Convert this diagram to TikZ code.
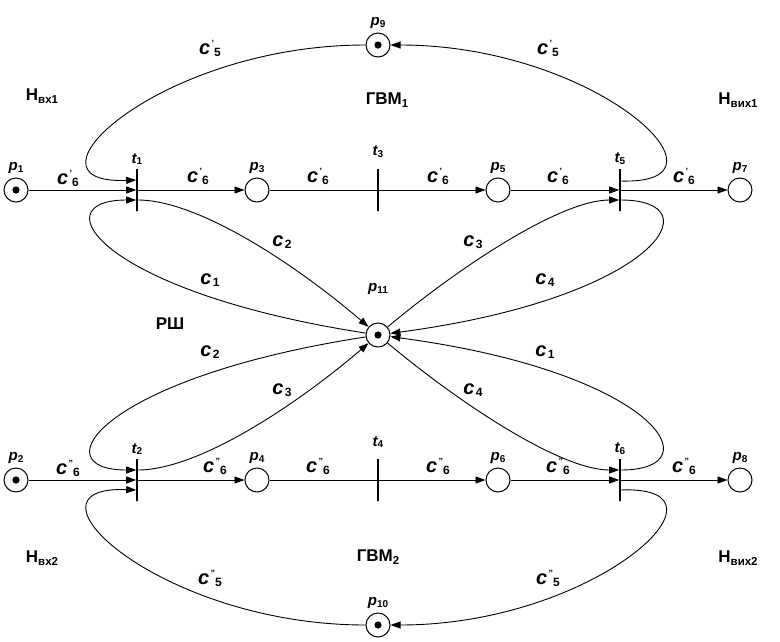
\documentclass[tikz,border=0pt]{standalone}
\usepackage{fontspec}
\setmainfont{Liberation Sans}
\usetikzlibrary{arrows.meta}

% name with subscript: p_1, t_1
\newcommand\pn[2]{{\fontsize{15}{15}\selectfont\bfseries\itshape #1}\raisebox{-0.3ex}{\fontsize{10}{10}\selectfont\bfseries #2}}
% arc weight: c with prime(s) and index
\newcommand\cw[2]{{\fontsize{20}{20}\selectfont\bfseries\itshape c}\hspace{1.5pt}\raisebox{8pt}{\fontsize{9}{9}\selectfont\bfseries #1}\raisebox{-2pt}{\fontsize{12}{12}\selectfont\bfseries #2}}
% block names
\newcommand\bn[2]{{\fontsize{17}{17}\selectfont\bfseries #1}\raisebox{-0.45ex}{\fontsize{11.5}{11.5}\selectfont\bfseries #2}}

\tikzset{
  place/.style  = {circle, draw, line width=1pt, minimum size=24pt, inner sep=0pt,
                   label distance=4pt},
  marked/.style = {place, path picture={\fill (path picture bounding box.center) circle (3.6pt);}},
  trans/.style  = {rectangle, draw, line width=1.6pt, minimum height=42pt,
                   minimum width=0pt, inner sep=0pt, label distance=3pt},
  arc/.style    = {-{Triangle[length=10pt,width=7pt]}, line width=0.9pt},
  ln/.style     = {-, line width=0.9pt},
  lbl/.style    = {inner sep=0pt},
}

\begin{document}
\begin{tikzpicture}[x=1pt,y=-1pt]
  \useasboundingbox (0,0) rectangle (780,641);

  % upper line
  \node[marked, label={above:\pn{p}{1}}] (p1) at (16,190) {};
  \node[trans, label={above:\pn{t}{1}}] (t1) at (137,190) {};
  \node[place, label={above:\pn{p}{3}}] (p3) at (257,190) {};
  \node[trans, label={[label distance=7pt]above:\pn{t}{3}}] (t3) at (378,190) {};
  \node[place, label={above:\pn{p}{5}}] (p5) at (498,190) {};
  \node[trans, label={above:\pn{t}{5}}] (t5) at (620,190) {};
  \node[place, label={above:\pn{p}{7}}] (p7) at (740,190) {};
  % lower line
  \node[marked, label={above:\pn{p}{2}}] (p2) at (16,480) {};
  \node[trans, label={above:\pn{t}{2}}] (t2) at (137,480) {};
  \node[place, label={above:\pn{p}{4}}] (p4) at (257,480) {};
  \node[trans, label={[label distance=7pt]above:\pn{t}{4}}] (t4) at (378,480) {};
  \node[place, label={above:\pn{p}{6}}] (p6) at (498,480) {};
  \node[trans, label={above:\pn{t}{6}}] (t6) at (620,480) {};
  \node[place, label={above:\pn{p}{8}}] (p8) at (740,480) {};
  % shared places
  \node[marked, label={above:\pn{p}{9}}] (p9) at (378,45) {};
  \node[marked, label={[label distance=24pt]above:\pn{p}{11}}] (p11) at (378,335) {};
  \node[marked, label={above:\pn{p}{10}}] (p10) at (378,625) {};

  % straight arcs
  \draw[arc] (p1) -- (t1.west);
  \draw[arc] (t1.east) -- (p3);
  \draw[ln]  (p3) -- (t3.west);
  \draw[arc] (t3.east) -- (p5);
  \draw[arc] (p5) -- (t5.west);
  \draw[arc] (t5.east) -- (p7);
  \draw[arc] (p2) -- (t2.west);
  \draw[arc] (t2.east) -- (p4);
  \draw[ln]  (p4) -- (t4.west);
  \draw[arc] (t4.east) -- (p6);
  \draw[arc] (p6) -- (t6.west);
  \draw[arc] (t6.east) -- (p8);

  % loops through p9 and p10
  \draw[arc] (p9) .. controls (160,45) and (10,185) .. ([yshift=10pt]t1.west);
  \draw[arc] ([yshift=9pt]t5.east) .. controls (746,185) and (596,45) .. (p9);
  \draw[arc] (p10) .. controls (160,625) and (10,485) .. ([yshift=-10pt]t2.west);
  \draw[arc] ([yshift=-10pt]t6.east) .. controls (746,485) and (596,625) .. (p10);

  % arcs through p11
  \draw[arc] (p11) .. controls (100,292) and (40,200) .. ([yshift=-10pt]t1.west);
  \draw[arc] ([yshift=-10pt]t1.east) .. controls (200,200) and (300,268) .. (p11);
  \draw[arc] (p11) .. controls (458,268) and (560,200) .. ([yshift=-10pt]t5.west);
  \draw[arc] ([yshift=-10pt]t5.east) .. controls (716,200) and (656,298) .. (p11);
  \draw[arc] (p11) .. controls (100,378) and (40,470) .. ([yshift=10pt]t2.west);
  \draw[arc] ([yshift=10pt]t2.east) .. controls (200,470) and (300,402) .. (p11);
  \draw[arc] (p11) .. controls (458,402) and (560,470) .. ([yshift=10pt]t6.west);
  \draw[arc] ([yshift=10pt]t6.east) .. controls (716,470) and (656,372) .. (p11);

  % arc weights
  \node[lbl] (w1)  at (68,178)  {\cw{'}{6}};
  \node[lbl] (w2)  at (198,176) {\cw{'}{6}};
  \node[lbl] (w3)  at (318,176) {\cw{'}{6}};
  \node[lbl] (w4)  at (438,176) {\cw{'}{6}};
  \node[lbl] (w5)  at (558,176) {\cw{'}{6}};
  \node[lbl] (w6)  at (684,176) {\cw{'}{6}};
  \node[lbl] (w7)  at (68,468)  {\cw{"}{6}};
  \node[lbl] (w8)  at (215,466) {\cw{"}{6}};
  \node[lbl] (w9)  at (318,466) {\cw{"}{6}};
  \node[lbl] (w10) at (438,466) {\cw{"}{6}};
  \node[lbl] (w11) at (558,466) {\cw{"}{6}};
  \node[lbl] (w12) at (684,466) {\cw{"}{6}};
  \node[lbl] (w13) at (210,48)  {\cw{'}{5}};
  \node[lbl] (w14) at (548,48)  {\cw{'}{5}};
  \node[lbl] (w15) at (210,578) {\cw{"}{5}};
  \node[lbl] (w16) at (548,578) {\cw{"}{5}};
  \node[lbl] (w17) at (282,242) {\cw{}{2}};
  \node[lbl] (w18) at (473,242) {\cw{}{3}};
  \node[lbl] (w19) at (210,280) {\cw{}{1}};
  \node[lbl] (w20) at (545,280) {\cw{}{4}};
  \node[lbl] (w21) at (210,352) {\cw{}{2}};
  \node[lbl] (w22) at (545,352) {\cw{}{1}};
  \node[lbl] (w23) at (282,390) {\cw{}{3}};
  \node[lbl] (w24) at (473,390) {\cw{}{4}};

  % block names
  \node[lbl] (gvm1) at (387,100) {\bn{ГВМ}{1}};
  \node[lbl] (gvm2) at (378,557) {\bn{ГВМ}{2}};
  \node[lbl] (rsh)  at (170,325) {\bn{РШ}{}};
  \node[lbl] (in1)  at (42,96)   {\bn{Н}{вх1}};
  \node[lbl] (out1) at (738,100) {\bn{Н}{вих1}};
  \node[lbl] (in2)  at (42,558)  {\bn{Н}{вх2}};
  \node[lbl] (out2) at (738,558) {\bn{Н}{вих2}};
\end{tikzpicture}
\end{document}
